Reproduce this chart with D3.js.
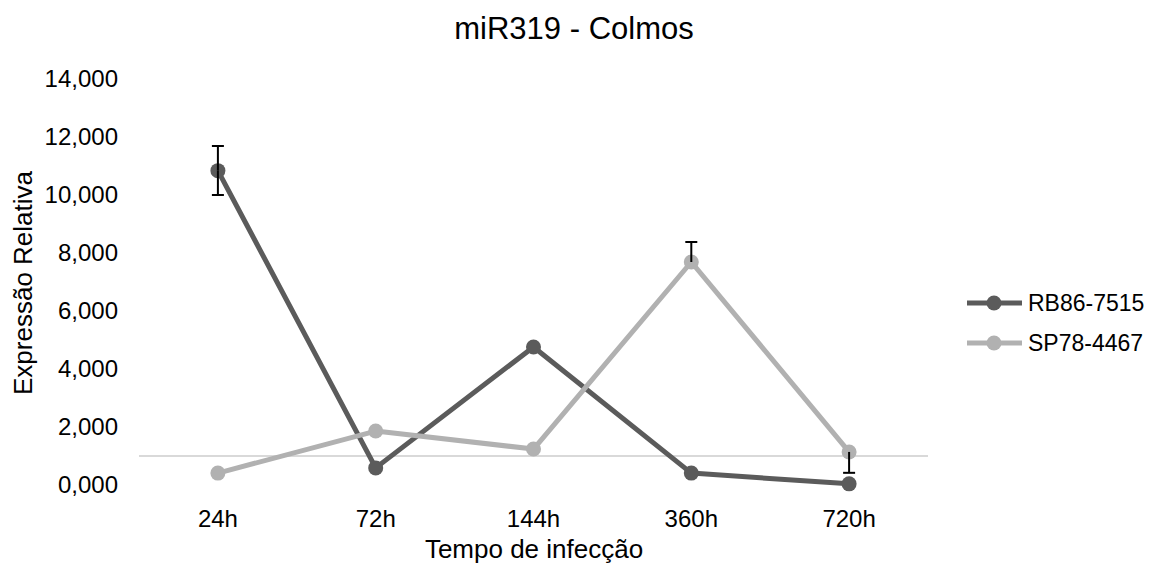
<!DOCTYPE html>
<meta charset="utf-8">
<script src="https://d3js.org/d3.v7.min.js"></script>
<style>
  body { margin: 0; background: #fff; }
  text { font-family: "Liberation Sans", Arial, sans-serif; fill: #000; }
</style>
<div id="chart"></div>
<script>

// data
var categories = ["24h", "72h", "144h", "360h", "720h"]
var seriesNames = ["RB86-7515", "SP78-4467"]
var rb86 = [10.84, 0.59, 4.76, 0.41, 0.04]
var sp78 = [0.41, 1.86, 1.24, 7.69, 1.14]
var rb86ErrPlus = [0.85, 0, 0, 0, 0]
var rb86ErrMinus = [0.84, 0, 0, 0, 0]
var sp78ErrPlus = [0, 0, 0, 0.69, 0]
var sp78ErrMinus = [0, 0, 0, 0, 0.72]
var yTicks = [0, 2, 4, 6, 8, 10, 12, 14]
var refValue = 1

var colors = {"RB86-7515": "#5b5b5b", "SP78-4467": "#b1b1b1"}

var width = 1157
var height = 566

var svg = d3.select("#chart").append("svg")
  .attr("width", width).attr("height", height)

var x = d3.scaleBand()
  .domain(categories)
  .range([139, 928])

var y = d3.scaleLinear()
  .domain([0, 14])
  .range([485, 79])

// comma as decimal separator
var ptBR = d3.formatLocale({decimal: ",", thousands: ".", grouping: [3], currency: ["", ""]})
var fmt = ptBR.format(".3f")

// title
svg.append("text")
  .attr("x", 574).attr("y", 39)
  .attr("text-anchor", "middle")
  .style("font-size", "31px")
  .text("miR319 - Colmos")

// y axis (labels only)
var yAxis = svg.append("g")
  .attr("transform", "translate(130,0)")
  .call(d3.axisLeft(y).tickValues(yTicks).tickFormat(fmt).tickSize(0).tickPadding(12))
yAxis.select(".domain").remove()
yAxis.selectAll("text").style("font-size", "24px").attr("fill", "#000")

// x axis (labels only)
var xAxis = svg.append("g")
  .attr("transform", "translate(0,502)")
  .call(d3.axisBottom(x).tickSize(0).tickPadding(8))
xAxis.select(".domain").remove()
xAxis.selectAll("text").style("font-size", "24px").attr("fill", "#000")

// axis titles
svg.append("text")
  .attr("transform", "translate(32,283) rotate(-90)")
  .attr("text-anchor", "middle")
  .style("font-size", "26px")
  .text("Expressão Relativa")

svg.append("text")
  .attr("x", 534).attr("y", 558)
  .attr("text-anchor", "middle")
  .style("font-size", "26px")
  .text("Tempo de infecção")

// horizontal line at 1
svg.append("line")
  .attr("x1", x.range()[0]).attr("x2", x.range()[1])
  .attr("y1", y(refValue)).attr("y2", y(refValue))
  .attr("stroke", "#d9d9d9").attr("stroke-width", 2)

var series = [
  {name: seriesNames[0], values: rb86, plus: rb86ErrPlus, minus: rb86ErrMinus},
  {name: seriesNames[1], values: sp78, plus: sp78ErrPlus, minus: sp78ErrMinus}
]

var line = d3.line()
  .x(function(d, i){ return x(categories[i]) + x.bandwidth()/2 })
  .y(function(d){ return y(d) })

series.forEach(function(s){
  var g = svg.append("g")
  g.append("path")
    .datum(s.values)
    .attr("d", line)
    .attr("fill", "none")
    .attr("stroke", colors[s.name])
    .attr("stroke-width", 5)
    .attr("stroke-linejoin", "round")

  g.selectAll("circle")
    .data(s.values)
    .join("circle")
    .attr("cx", function(d, i){ return x(categories[i]) + x.bandwidth()/2 })
    .attr("cy", function(d){ return y(d) })
    .attr("r", 7.5)
    .attr("fill", colors[s.name])

  // error bars
  s.values.forEach(function(v, i){
    var cx = x(categories[i]) + x.bandwidth()/2
    var ends = []
    if(s.plus[i] > 0) ends.push(v + s.plus[i])
    if(s.minus[i] > 0) ends.push(v - s.minus[i])
    ends.forEach(function(e){
      g.append("line")
        .attr("x1", cx).attr("x2", cx)
        .attr("y1", y(v)).attr("y2", y(e))
        .attr("stroke", "#000").attr("stroke-width", 2)
      g.append("line")
        .attr("x1", cx - 6).attr("x2", cx + 6)
        .attr("y1", y(e)).attr("y2", y(e))
        .attr("stroke", "#000").attr("stroke-width", 2)
    })
  })
})

// legend
var legend = svg.append("g")
legend.selectAll("g")
  .data(seriesNames)
  .join("g")
  .attr("transform", function(d, i){ return "translate(967," + (303 + i*40) + ")" })
  .each(function(d){
    var item = d3.select(this)
    item.append("line")
      .attr("x1", 0).attr("x2", 55)
      .attr("stroke", colors[d]).attr("stroke-width", 5)
    item.append("circle")
      .attr("cx", 27).attr("r", 7.5)
      .attr("fill", colors[d])
    item.append("text")
      .attr("x", 61).attr("dy", "0.35em")
      .style("font-size", "23px")
      .text(d)
  })

</script>
